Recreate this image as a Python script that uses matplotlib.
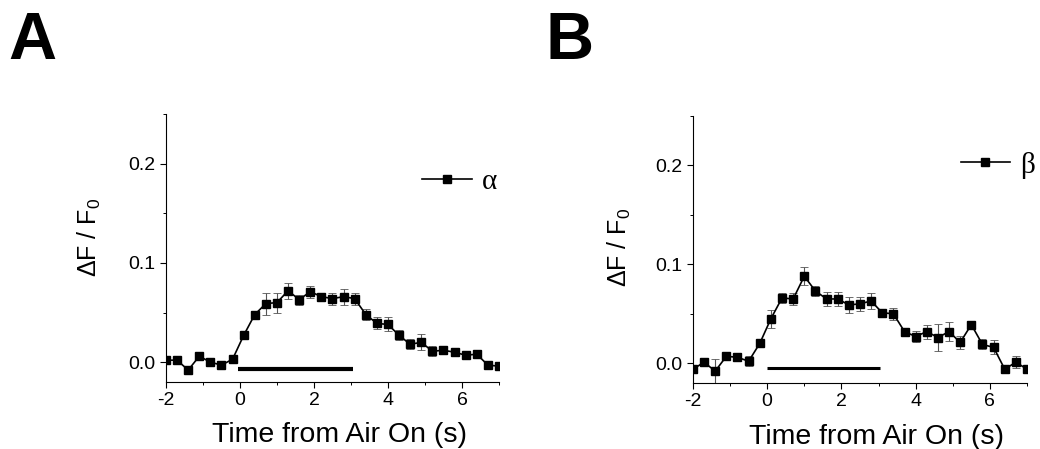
import numpy as np
import matplotlib
matplotlib.use("Agg")
import matplotlib.pyplot as plt
from matplotlib.lines import Line2D
from matplotlib.ticker import MultipleLocator

plt.rcParams['font.family'] = ['Liberation Sans', 'DejaVu Sans']
plt.rcParams['mathtext.fontset'] = 'custom'
plt.rcParams['mathtext.rm'] = 'Liberation Sans'

time_s = [-2.0, -1.7, -1.4, -1.1, -0.8, -0.5, -0.2, 0.1, 0.4, 0.7, 1.0, 1.3, 1.6, 1.9,
          2.2, 2.5, 2.8, 3.1, 3.4, 3.7, 4.0, 4.3, 4.6, 4.9, 5.2, 5.5, 5.8, 6.1, 6.4, 6.7, 7.0]

alpha_mean = [0.002, 0.002, -0.008, 0.006, 0.000, -0.003, 0.003, 0.027, 0.048, 0.059, 0.060,
              0.072, 0.063, 0.071, 0.066, 0.064, 0.066, 0.064, 0.048, 0.039, 0.038, 0.027,
              0.018, 0.020, 0.011, 0.012, 0.010, 0.007, 0.008, -0.003, -0.004]
alpha_err = [0.002, 0.002, 0.003, 0.002, 0.004, 0.003, 0.002, 0.003, 0.004, 0.011, 0.010,
             0.008, 0.005, 0.006, 0.004, 0.006, 0.008, 0.006, 0.006, 0.006, 0.007, 0.005,
             0.005, 0.008, 0.005, 0.004, 0.004, 0.003, 0.004, 0.003, 0.003]

beta_mean = [-0.006, 0.001, -0.008, 0.007, 0.006, 0.002, 0.020, 0.045, 0.066, 0.065, 0.088,
             0.073, 0.065, 0.065, 0.059, 0.060, 0.063, 0.051, 0.050, 0.032, 0.027, 0.032,
             0.026, 0.032, 0.021, 0.039, 0.019, 0.016, -0.006, 0.001, -0.006]
beta_err = [0.004, 0.004, 0.012, 0.003, 0.004, 0.005, 0.003, 0.009, 0.005, 0.006, 0.009,
            0.005, 0.007, 0.007, 0.008, 0.007, 0.008, 0.004, 0.006, 0.004, 0.006, 0.007,
            0.014, 0.010, 0.007, 0.004, 0.005, 0.007, 0.004, 0.006, 0.003]

panels = [
    dict(letter='A', mean=alpha_mean, err=alpha_err, label='\u03b1',
         rect=[0.1596, 0.1492, 0.3202, 0.5969], stim=([-0.05, 3.05], -0.0065, 3.0),
         leg=(0.995, 0.746), ylab=(-0.19, 0.54), xlab=(0.52, -0.15), letter_xy=(0.008, 0.975)),
    dict(letter='B', mean=beta_mean, err=beta_err, label='\u03b2',
         rect=[0.6663, 0.1470, 0.3212, 0.5946], stim=([0.0, 3.05], -0.0045, 2.2),
         leg=(1.025, 0.816), ylab=(-0.18, 0.51), xlab=(0.55, -0.155), letter_xy=(0.525, 0.975)),
]

fig = plt.figure(figsize=(10.4, 4.49), dpi=100)

for p in panels:
    ax = fig.add_axes(p['rect'])
    ax.errorbar(time_s, p['mean'], yerr=p['err'], fmt='none', ecolor='#555555',
                elinewidth=0.8, capsize=3, capthick=0.6, zorder=2)
    ax.plot(time_s, p['mean'], color='black', lw=1.2, marker='s', ms=5.5,
            mec='black', mfc='black', zorder=3)
    xs, ys, lw = p['stim']
    ax.plot(xs, [ys, ys], color='black', lw=lw, solid_capstyle='butt', zorder=1)

    ax.set_xlim(-2, 7)
    ax.set_ylim(-0.02, 0.25)
    ax.set_xticks([-2, 0, 2, 4, 6])
    ax.xaxis.set_minor_locator(MultipleLocator(1))
    ax.set_yticks([0.0, 0.1, 0.2])
    ax.set_yticklabels(['0.0', '0.1', '0.2'])
    ax.yaxis.set_minor_locator(MultipleLocator(0.05))
    for s in ['top', 'right']:
        ax.spines[s].set_visible(False)
    for s in ['left', 'bottom']:
        ax.spines[s].set_linewidth(0.8)
    ax.tick_params(which='major', direction='out', length=4, width=0.8, labelsize=14)
    ax.tick_params(which='minor', direction='out', length=2.5, width=0.7)
    ax.set_xticklabels(['-2', '0', '2', '4', '6'])

    ax.set_xlabel('Time from Air On (s)', fontsize=20.5)
    ax.xaxis.set_label_coords(*p['xlab'])
    ax.set_ylabel(r'$\Delta$F / F$_0$', fontsize=18)
    ax.yaxis.set_label_coords(*p['ylab'])

    h = Line2D([], [], color='black', lw=1.2, marker='s', ms=5.5)
    ax.legend([h], [p['label']], loc='center right', bbox_to_anchor=p['leg'],
              frameon=False, handlelength=1.7, handletextpad=0.35, borderpad=0,
              borderaxespad=0, prop={'family': 'Liberation Serif', 'size': 21})

    fig.text(p['letter_xy'][0], p['letter_xy'][1], p['letter'], fontsize=48,
             fontweight='bold', ha='left', va='top')

fig.savefig('out.png', dpi=100)
